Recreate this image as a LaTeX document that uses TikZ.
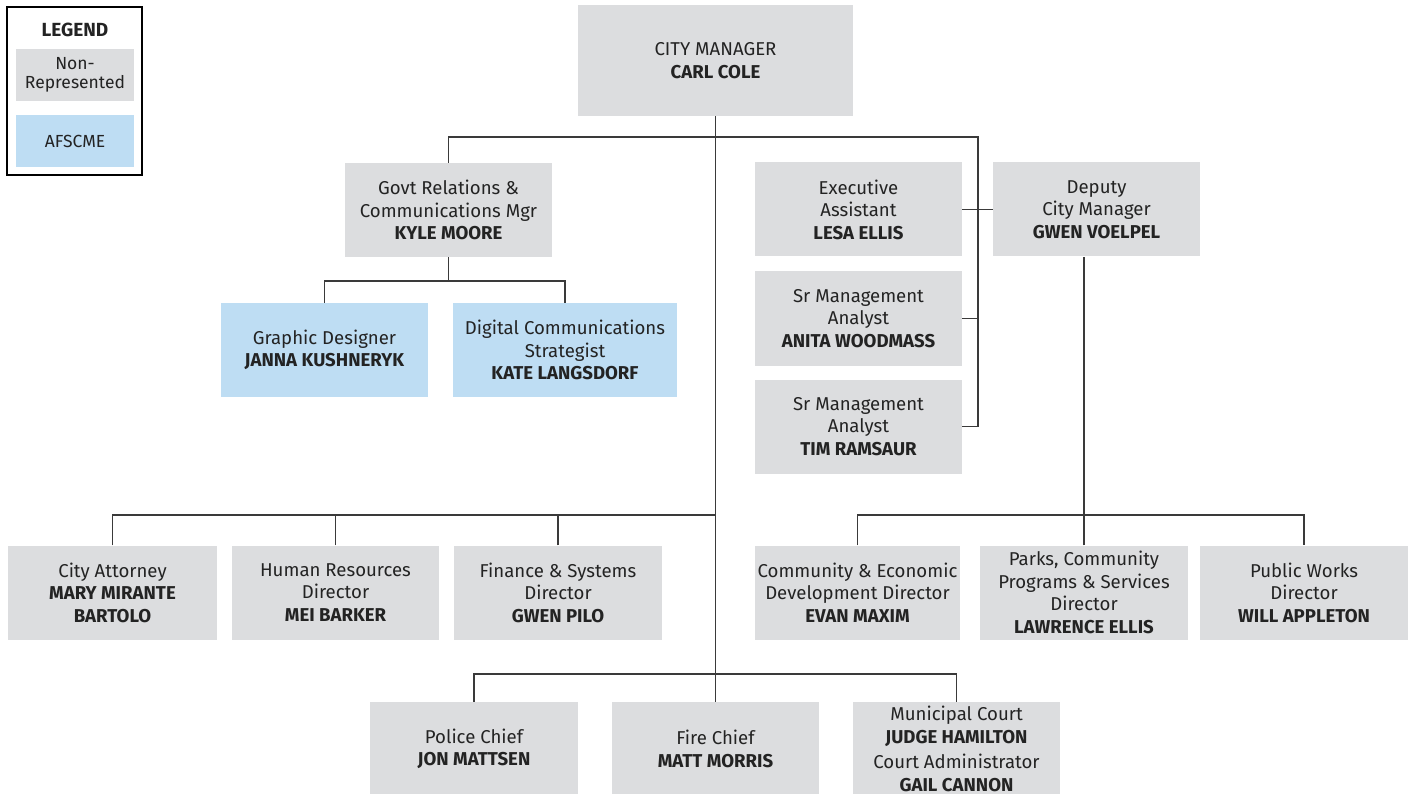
\documentclass[tikz,border=0pt]{standalone}
\usepackage{fontspec}
\setmainfont{Fira Sans}
\definecolor{boxgray}{HTML}{DCDDDF}
\definecolor{boxblue}{HTML}{BEDDF3}
\definecolor{linec}{HTML}{3A3A3A}
\definecolor{txt}{HTML}{232323}
\begin{document}
\begin{tikzpicture}[x=1pt,y=-1pt,
  box/.style={fill=boxgray, inner sep=0pt, align=center, text=txt,
    font=\fontsize{18.6}{22.5}\selectfont, minimum width=207pt, minimum height=94pt},
  bluebox/.style={box, fill=boxblue},
  conn/.style={draw=linec, line width=1.3pt},
  legbox/.style={inner sep=0pt, align=center, text=txt, minimum width=118pt, minimum height=52pt,
    font=\fontsize{17.5}{19.5}\selectfont}]
\useasboundingbox (0,0) rectangle (1410,794);
\fill[white] (0,0) rectangle (1410,794);
% legend
\node[draw=black, line width=2pt, minimum width=135pt, minimum height=168pt, inner sep=0pt] (legend) at (74.5,91) {};
\node[text=txt, font=\fontsize{19}{21}\selectfont\bfseries] (legtitle) at (75,30) {LEGEND};
\node[legbox, fill=boxgray] (legnr) at (75,75) {Non-\\Represented};
\node[legbox, fill=boxblue] (legaf) at (75,141) {AFSCME};
% nodes
\node[box, minimum width=275pt, minimum height=111pt] (cm) at (715.5,60.5) {CITY MANAGER\\\textbf{CARL COLE}};
\node[box] (govt) at (448.5,210) {Govt Relations \&\\Communications Mgr\\\textbf{KYLE MOORE}};
\node[box] (exec) at (858.5,209.5) {Executive\\Assistant\\\textbf{LESA ELLIS}};
\node[box] (deputy) at (1096.5,209.5) {Deputy\\City Manager\\\textbf{GWEN VOELPEL}};
\node[box] (anita) at (858.5,318.5) {Sr Management\\Analyst\\\textbf{ANITA WOODMASS}};
\node[box] (tim) at (858.5,426.5) {Sr Management\\Analyst\\\textbf{TIM RAMSAUR}};
\node[bluebox] (gd) at (324.5,350) {Graphic Designer\\\textbf{JANNA KUSHNERYK}};
\node[bluebox, minimum width=224pt] (dc) at (565,350) {Digital Communications\\Strategist\\\textbf{KATE LANGSDORF}};
\node[box, minimum width=209pt] (ca) at (112.5,592.5) {City Attorney\\\textbf{MARY MIRANTE}\\\textbf{BARTOLO}};
\node[box] (hr) at (335.5,592.5) {Human Resources\\Director\\\textbf{MEI BARKER}};
\node[box, minimum width=208pt] (fin) at (558,592.5) {Finance \& Systems\\Director\\\textbf{GWEN PILO}};
\node[box, minimum width=205pt] (ced) at (857.5,592.5) {Community \& Economic\\Development Director\\\textbf{EVAN MAXIM}};
\node[box, minimum width=208pt] (parks) at (1084,592.5) {Parks, Community\\Programs \& Services\\Director\\\textbf{LAWRENCE ELLIS}};
\node[box, minimum width=208pt] (pw) at (1304,592.5) {Public Works\\Director\\\textbf{WILL APPLETON}};
\node[box, minimum width=208pt] (police) at (474,749) {Police Chief\\\textbf{JON MATTSEN}};
\node[box] (fire) at (715.5,749) {Fire Chief\\\textbf{MATT MORRIS}};
\node[box] (court) at (956.5,749) {Municipal Court\\\textbf{JUDGE HAMILTON}\\[3pt]Court Administrator\\\textbf{GAIL CANNON}};
% connectors
\coordinate (tbar) at (978,137);
\coordinate (gbar) at (448.5,281);
\coordinate (lbar) at (715.5,515);
\coordinate (rbar) at (1084,515);
\coordinate (bbar) at (715.5,674);
\draw[conn] (cm.south) -- (fire.north);
\draw[conn] (govt.north) |- (tbar) |- (tim.east);
\draw[conn] (anita.east) -- (anita.east -| tbar);
\draw[conn] (exec.east) -- (deputy.west);
\draw[conn] (govt.south) -- (gbar);
\draw[conn] (gd.north) |- (gbar) -| (dc.north);
\draw[conn] (ca.north) |- (lbar);
\draw[conn] (hr.north) -- (hr.north |- lbar);
\draw[conn] (fin.north) -- (fin.north |- lbar);
\draw[conn] (parks.north) -- (parks.north |- deputy.south);
\draw[conn] (ced.north) |- (rbar) -| (pw.north);
\draw[conn] (police.north) |- (bbar) -| (court.north);
\end{tikzpicture}
\end{document}
